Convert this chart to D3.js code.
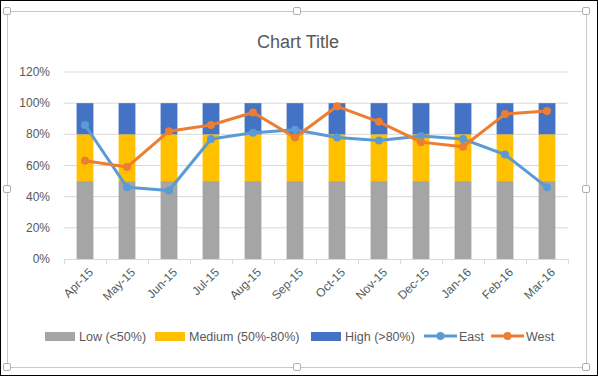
<!DOCTYPE html>
<html>
<head>
<meta charset="utf-8">
<script src="https://cdn.jsdelivr.net/npm/d3@7"></script>
<style>
  body { margin: 0; background: #fff; }
  text { font-family: "Liberation Sans", Arial, sans-serif; fill: #595959; }
</style>
</head>
<body>
<div id="chart"></div>
<script>
// DATA
const months = ["Apr-15","May-15","Jun-15","Jul-15","Aug-15","Sep-15","Oct-15","Nov-15","Dec-15","Jan-16","Feb-16","Mar-16"]
const low    = [50,50,50,50,50,50,50,50,50,50,50,50]
const medium = [30,30,30,30,30,30,30,30,30,30,30,30]
const high   = [20,20,20,20,20,20,20,20,20,20,20,20]
const east   = [86,46,44,77,81,83,78,76,79,77,67,46]
const west   = [63,59,82,86,94,78,98,88,75,72,93,95]
const yTicks = [0,20,40,60,80,100,120]

const width = 598, height = 376
const margin = {top: 72, right: 30, bottom: 117, left: 64}

const svg = d3.select("#chart")
  .append("svg")
    .attr("width", width)
    .attr("height", height)

// outer frame + chart area border
svg.append("rect")
  .attr("x", 0.5).attr("y", 0.5)
  .attr("width", width-1).attr("height", height-1)
  .attr("fill", "#fff").attr("stroke", "#000")

svg.append("rect")
  .attr("x", 7.5).attr("y", 11.5)
  .attr("width", 579).attr("height", 356)
  .attr("fill", "#fff").attr("stroke", "#c8c8c8")

// selection handles
const handles = [[7,11],[297,11],[586,11],[7,189],[586,189],[7,367],[297,367],[586,367]]
svg.selectAll(".handle")
  .data(handles)
  .join("rect")
    .attr("x", d => d[0]-3.5).attr("y", d => d[1]-3.5)
    .attr("width", 7).attr("height", 7)
    .attr("rx", 1.5)
    .attr("fill", "#fff").attr("stroke", "#b0b0b0")

const innerW = width - margin.left - margin.right   // 504
const innerH = 259 - margin.top

const g = svg.append("g").attr("transform", `translate(${margin.left},${margin.top})`)

const xScale = d3.scaleBand().domain(months).range([0, innerW]).paddingInner(0.6).paddingOuter(0.3)
const xOuter = d3.scaleBand().domain(months).range([0, innerW])
const yScale = d3.scaleLinear().domain([0, 120]).range([innerH, 0])

// gridlines
g.append("g")
  .selectAll("line")
  .data(yTicks.slice(1))
  .join("line")
    .attr("x1", 0).attr("x2", innerW)
    .attr("y1", d => yScale(d)).attr("y2", d => yScale(d))
    .attr("stroke", "#d9d9d9")

// y labels
g.append("g")
  .selectAll("text")
  .data(yTicks)
  .join("text")
    .attr("x", -14)
    .attr("y", d => yScale(d) + 4)
    .attr("text-anchor", "end")
    .attr("font-size", 12)
    .text(d => d + "%")

// STACKED BARS
const series = [
  {key: "Low (<50%)", values: low, color: "#a5a5a5"},
  {key: "Medium (50%-80%)", values: medium, color: "#ffc000"},
  {key: "High (>80%)", values: high, color: "#4472c4"}
]
const rows = months.map((m, i) => ({month: m, low: low[i], medium: medium[i], high: high[i]}))
const stacked = d3.stack().keys(["low","medium","high"])(rows)

g.append("g")
  .selectAll("g")
  .data(stacked)
  .join("g")
    .attr("fill", (d, i) => series[i].color)
  .selectAll("rect")
  .data(d => d)
  .join("rect")
    .attr("x", d => xScale(d.data.month))
    .attr("y", d => yScale(d[1]))
    .attr("width", xScale.bandwidth())
    .attr("height", d => yScale(d[0]) - yScale(d[1]))

// x axis
g.append("line")
  .attr("x1", 0).attr("x2", innerW)
  .attr("y1", innerH + 0.5).attr("y2", innerH + 0.5)
  .attr("stroke", "#d9d9d9")

g.append("g")
  .selectAll("line")
  .data(months.concat(["end"]))
  .join("line")
    .attr("x1", (d, i) => i * xOuter.step() + 0.5)
    .attr("x2", (d, i) => i * xOuter.step() + 0.5)
    .attr("y1", innerH).attr("y2", innerH + 5)
    .attr("stroke", "#d9d9d9")

g.append("g")
  .selectAll("text")
  .data(months)
  .join("text")
    .attr("transform", d => `translate(${xOuter(d) + xOuter.bandwidth()/2 + 9},${innerH + 14}) rotate(-45)`)
    .attr("text-anchor", "end")
    .attr("font-size", 12)
    .text(d => d)

// LINES
const lines = [
  {key: "East", values: east, color: "#5b9bd5"},
  {key: "West", values: west, color: "#ed7d31"}
]
const lineGen = d3.line()
  .x((d, i) => xOuter(months[i]) + xOuter.bandwidth()/2)
  .y(d => yScale(d))

lines.forEach(s => {
  g.append("path")
    .datum(s.values)
    .attr("d", lineGen)
    .attr("fill", "none")
    .attr("stroke", s.color)
    .attr("stroke-width", 3)
    .attr("stroke-linejoin", "round")
  g.append("g")
    .selectAll("circle")
    .data(s.values)
    .join("circle")
      .attr("cx", (d, i) => xOuter(months[i]) + xOuter.bandwidth()/2)
      .attr("cy", d => yScale(d))
      .attr("r", 4)
      .attr("fill", s.color)
})

// TITLE
svg.append("text")
  .attr("x", 298).attr("y", 48)
  .attr("text-anchor", "middle")
  .attr("font-size", 18)
  .text("Chart Title")

// LEGEND
const legendX = [45, 155, 311, 424, 491]
const legendItems = series.map(s => ({key: s.key, color: s.color, type: "bar"}))
  .concat(lines.map(s => ({key: s.key, color: s.color, type: "line"})))
const ly = 336
const legend = svg.append("g")
legendItems.forEach((d, i) => {
  const x = legendX[i]
  if (d.type === "bar") {
    legend.append("rect").attr("x", x).attr("y", ly - 4).attr("width", 30).attr("height", 9).attr("fill", d.color)
  } else {
    legend.append("line").attr("x1", x).attr("x2", x + 33).attr("y1", ly).attr("y2", ly)
      .attr("stroke", d.color).attr("stroke-width", 3)
    legend.append("circle").attr("cx", x + 16.5).attr("cy", ly).attr("r", 4).attr("fill", d.color)
  }
  legend.append("text")
    .attr("x", x + (d.type === "bar" ? 34 : 35))
    .attr("y", ly + 5)
    .attr("font-size", 12.5)
    .text(d.key)
})
</script>
</body>
</html>
